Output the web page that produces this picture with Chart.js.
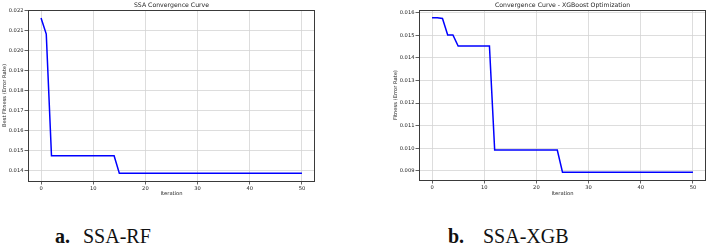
<!DOCTYPE html>
<html>
<head>
<meta charset="utf-8">
<script src="https://cdn.jsdelivr.net/npm/chart.js@4.4.1/dist/chart.umd.min.js"></script>
<style>
  html, body { margin: 0; padding: 0; background: #fff; }
  body { width: 708px; height: 245px; position: relative; overflow: hidden; }
  .wrap { position: absolute; top: 0; }
  .cap { position: absolute; font-family: "Liberation Serif", "Times New Roman", serif; font-size: 20px; line-height: 20px; color: #111; white-space: nowrap; }
  .cap b { font-weight: bold; }
</style>
</head>
<body>
<div class="wrap" style="left:0px;width:330px;height:205px;"><canvas id="c1"></canvas></div>
<div class="wrap" style="left:354px;width:354px;height:205px;"><canvas id="c2"></canvas></div>
<div class="cap" style="left:55px;top:226px;"><b>a.</b></div>
<div class="cap" style="left:83px;top:226px;">SSA-RF</div>
<div class="cap" style="left:448px;top:226px;"><b>b.</b></div>
<div class="cap" style="left:483px;top:226px;">SSA-XGB</div>
<script>
// ---- data ----
const rfTitle = "SSA Convergence Curve";
const xgbTitle = "Convergence Curve - XGBoost Optimization";
const rfYLabel = "Best Fitness (Error Rate)";
const xgbYLabel = "Fitness (Error Rate)";
const xLabel = "Iteration";

const rfFitness = [
  0.02163, 0.02082, 0.01473, 0.01473, 0.01473, 0.01473, 0.01473, 0.01473, 0.01473, 0.01473,
  0.01473, 0.01473, 0.01473, 0.01473, 0.01473, 0.01385, 0.01385, 0.01385, 0.01385, 0.01385,
  0.01385, 0.01385, 0.01385, 0.01385, 0.01385, 0.01385, 0.01385, 0.01385, 0.01385, 0.01385,
  0.01385, 0.01385, 0.01385, 0.01385, 0.01385, 0.01385, 0.01385, 0.01385, 0.01385, 0.01385,
  0.01385, 0.01385, 0.01385, 0.01385, 0.01385, 0.01385, 0.01385, 0.01385, 0.01385, 0.01385,
  0.01385
];
const xgbFitness = [
  0.01578, 0.01578, 0.01575, 0.01502, 0.01502, 0.01453, 0.01453, 0.01453, 0.01453, 0.01453,
  0.01453, 0.01453, 0.00992, 0.00992, 0.00992, 0.00992, 0.00992, 0.00992, 0.00992, 0.00992,
  0.00992, 0.00992, 0.00992, 0.00992, 0.00992, 0.00893, 0.00893, 0.00893, 0.00893, 0.00893,
  0.00893, 0.00893, 0.00893, 0.00893, 0.00893, 0.00893, 0.00893, 0.00893, 0.00893, 0.00893,
  0.00893, 0.00893, 0.00893, 0.00893, 0.00893, 0.00893, 0.00893, 0.00893, 0.00893, 0.00893,
  0.00893
];
const xTicks = [0, 10, 20, 30, 40, 50];
const rfYTicks = [0.014, 0.015, 0.016, 0.017, 0.018, 0.019, 0.020, 0.021, 0.022];
const xgbYTicks = [0.009, 0.010, 0.011, 0.012, 0.013, 0.014, 0.015, 0.016];

// ---- helpers ----
const FONT = "'DejaVu Sans', sans-serif";
const TXT = '#262626';

function toPoints(vals) { return vals.map((v, i) => ({ x: i, y: v })); }
function padRange(vals) {
  const lo = Math.min(...vals), hi = Math.max(...vals), m = (hi - lo) * 0.05;
  return [lo - m, hi + m];
}

const frame = {
  id: 'frame',
  afterDraw(chart) {
    const { ctx, chartArea: a } = chart;
    ctx.save();
    ctx.strokeStyle = '#3a3a3a';
    ctx.lineWidth = 1;
    ctx.strokeRect(Math.round(a.left) + 0.5, Math.round(a.top) + 0.5,
                   Math.round(a.right - a.left) - 1, Math.round(a.bottom - a.top));
    ctx.restore();
  }
};

function makeChart(id, vals, yTicks, title, yLabel, cfg) {
  const [ymin, ymax] = padRange(vals);
  return new Chart(document.getElementById(id), {
    type: 'line',
    data: { datasets: [{ data: toPoints(vals), borderColor: '#0000ff', borderWidth: 1.5,
      pointRadius: 0, tension: 0, fill: false }] },
    options: {
      responsive: true, maintainAspectRatio: false, animation: false,
      devicePixelRatio: 1,
      layout: { padding: { left: 0, right: cfg.padRight, top: 0, bottom: 0 } },
      plugins: {
        legend: { display: false }, tooltip: { enabled: false },
        title: { display: true, text: title, fullSize: false, color: TXT,
          font: { family: FONT, size: 6.2, weight: 'normal' }, padding: { top: 1.4, bottom: 1.3 } }
      },
      scales: {
        x: {
          type: 'linear', min: -2.5, max: 52.5,
          afterBuildTicks: s => { s.ticks = xTicks.map(v => ({ value: v })); },
          afterFit: s => { s.height = cfg.xH; },
          ticks: { color: TXT, font: { family: FONT, size: 5.2 }, padding: 1, maxRotation: 0,
            callback: v => String(v) },
          grid: { color: '#d4d4d4', lineWidth: 0.8, tickLength: 3.5, tickColor: '#3a3a3a', tickWidth: 0.8 },
          border: { display: false },
          title: { display: true, text: xLabel, color: TXT, font: { family: FONT, size: 5.2 },
            padding: { top: 0, bottom: cfg.xTitlePad } }
        },
        y: {
          type: 'linear', min: ymin, max: ymax,
          afterBuildTicks: s => { s.ticks = yTicks.map(v => ({ value: v })); },
          afterFit: s => { s.width = cfg.yW; },
          ticks: { color: TXT, font: { family: FONT, size: 5.2 }, padding: 1,
            callback: v => Number(v).toFixed(3) },
          grid: { color: '#d4d4d4', lineWidth: 0.8, tickLength: 3.5, tickColor: '#3a3a3a', tickWidth: 0.8 },
          border: { display: false },
          title: { display: true, text: yLabel, color: TXT, font: { family: FONT, size: 5.2 },
            padding: { top: cfg.yTitlePad, bottom: 0 } }
        }
      }
    },
    plugins: [frame]
  });
}

makeChart('c1', rfFitness, rfYTicks, rfTitle, rfYLabel,
  { padRight: 15, xH: 24, yW: 28, xTitlePad: 8, yTitlePad: 1.4 });
makeChart('c2', xgbFitness, xgbYTicks, xgbTitle, xgbYLabel,
  { padRight: 2, xH: 25, yW: 65, xTitlePad: 8, yTitlePad: 39 });
</script>
</body>
</html>
